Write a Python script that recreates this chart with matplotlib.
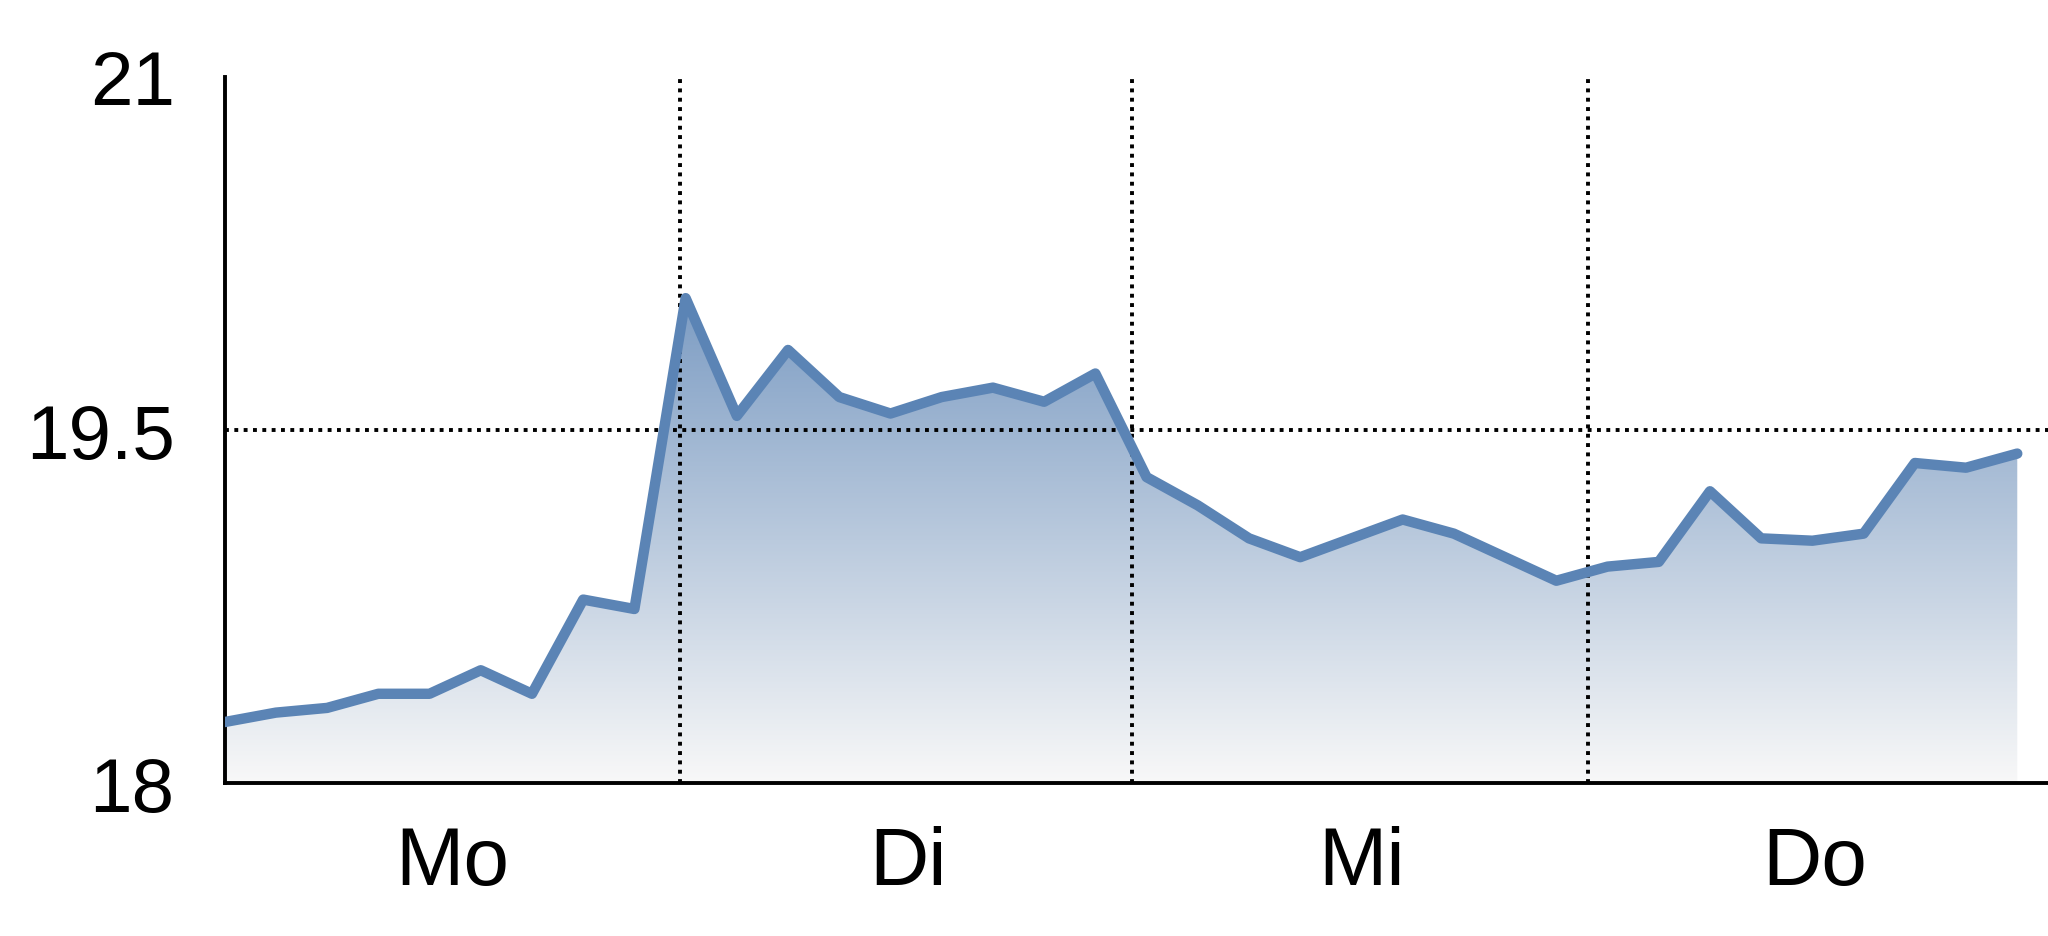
import numpy as np
import matplotlib.pyplot as plt
from matplotlib.colors import LinearSegmentedColormap

# Werte (stündlich, Mo-Do)
werte = [18.26, 18.30, 18.32, 18.38, 18.38, 18.48, 18.38, 18.78, 18.74,
         20.06, 19.56, 19.84, 19.64, 19.57, 19.64, 19.68, 19.62, 19.74,
         19.30, 19.18, 19.04, 18.96, 19.04, 19.12, 19.06, 18.96, 18.86,
         18.92, 18.94, 19.24, 19.04, 19.03, 19.06, 19.36, 19.34, 19.40]
tage = ['Mo', 'Di', 'Mi', 'Do']
tag_grenzen = [8.9, 17.72, 26.62]
tag_mitten = [4.45, 13.35, 22.2, 31.05]
y_ticks = [18, 19.5, 21]
y_labels = ['18', '19.5', '21']

plt.rcParams['font.family'] = ['Liberation Sans Narrow', 'Liberation Sans', 'DejaVu Sans']

fig = plt.figure(figsize=(20.48, 9.37), dpi=100)
ax = fig.add_axes([0.1097, 0.163, 0.8903, 0.754])

x = np.arange(len(werte))
y = np.array(werte)
linie = '#5b84b5'

# Verlauf unter der Kurve
cmap = LinearSegmentedColormap.from_list('verlauf', ['#f8f8f8', '#7c9cc3'])
ymax = y.max()
grad = np.linspace(0, 1, 256).reshape(-1, 1)
im = ax.imshow(grad, aspect='auto', cmap=cmap, origin='lower',
               extent=[x[0], x[-1], 18, ymax], zorder=1)
poly = ax.fill_between(x, y, 18, color='none', lw=0)
clip = poly.get_paths()[0]
im.set_clip_path(clip, transform=ax.transData)

ax.plot(x, y, color=linie, lw=7.5, solid_joinstyle='round', solid_capstyle='round', zorder=3)

for g in tag_grenzen:
    ax.axvline(g, color='black', lw=2.8, ls=(0, (1, 1.4)), zorder=2)
ax.axhline(19.5, color='black', lw=2.8, ls=(0, (1, 1.4)), zorder=2)

ax.set_xlim(0, 35.6)
ax.set_ylim(18, 21)
ax.set_yticks(y_ticks)
ax.set_yticklabels(y_labels, fontsize=55)
ax.set_xticks(tag_mitten)
ax.set_xticklabels(tage, fontsize=59)
ax.tick_params(axis='y', length=0, pad=36)
ax.tick_params(axis='x', length=0, pad=30)

ax.spines['right'].set_color('none')
ax.spines['top'].set_color('none')
ax.spines['left'].set_linewidth(2.8)
ax.spines['bottom'].set_linewidth(2.8)

fig.savefig('out.png', dpi=100)
